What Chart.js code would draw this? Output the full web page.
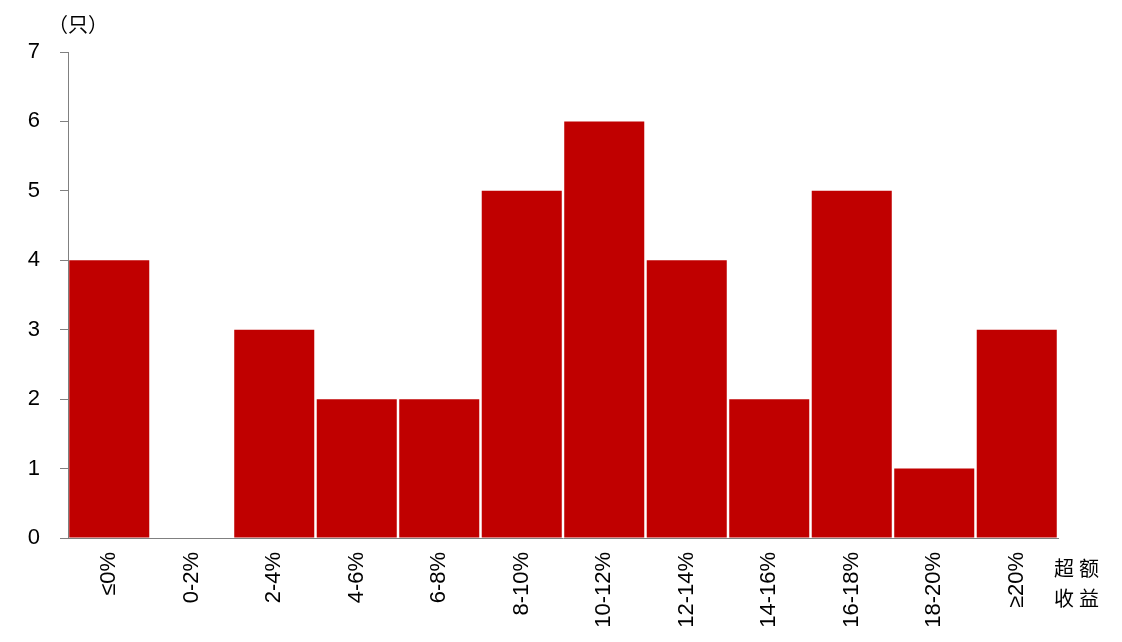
<!DOCTYPE html>
<html>
<head>
<meta charset="utf-8">
<script src="https://cdn.jsdelivr.net/npm/chart.js@4/dist/chart.umd.min.js"></script>
<style>
  html, body { margin: 0; padding: 0; background: #fff; }
  #wrap { width: 1122px; height: 642px; position: relative; }
</style>
</head>
<body>
<div id="wrap"><canvas id="grafico"></canvas></div>
<script>
// categorias de exceso de rentabilidad y numero de fondos
const categorias = ["≤0%", "0-2%", "2-4%", "4-6%", "6-8%", "8-10%", "10-12%", "12-14%", "14-16%", "16-18%", "18-20%", "≥20%"];
const cantidades = [4, 0, 3, 2, 2, 5, 6, 4, 2, 5, 1, 3];
const ticksY = [0, 1, 2, 3, 4, 5, 6, 7];
const unidad = "（只）";
const tituloX = ["超额", "收益"];

// textos extra: unidad arriba y titulo del eje x abajo a la derecha
const textosExtra = {
  id: "textosExtra",
  afterDraw(chart) {
    const ctx = chart.ctx;
    ctx.save();
    ctx.fillStyle = "#000";
    ctx.textBaseline = "middle";
    ctx.textAlign = "left";
    ctx.font = "20px 'Noto Sans CJK SC'";
    ctx.fillText(unidad, 48, 24);
    ctx.letterSpacing = "5px";
    ctx.fillText(tituloX[0], 1054, 568);
    ctx.fillText(tituloX[1], 1054, 598);
    ctx.restore();
  },
};

const ctx = document.getElementById("grafico").getContext("2d");
const myChart = new Chart(ctx, {
  type: "bar",
  data: {
    labels: categorias,
    datasets: [
      {
        data: cantidades,
        backgroundColor: "#C00000",
        borderWidth: 0,
        barPercentage: 0.97,
        categoryPercentage: 1,
      },
    ],
  },
  options: {
    responsive: true,
    maintainAspectRatio: false,
    animation: false,
    layout: { padding: { top: 52, right: 64, left: 0, bottom: 0 } },
    plugins: { legend: { display: false }, tooltip: { enabled: false } },
    scales: {
      x: {
        grid: { display: false, drawTicks: false },
        border: { display: true, color: "#808080", width: 1 },
        ticks: {
          color: "#000",
          font: { family: "'Liberation Sans', Arial", size: 22 },
          minRotation: 90,
          maxRotation: 90,
          padding: 14,
          autoSkip: false,
        },
        afterFit(scale) {
          scale.height = 104;
        },
      },
      y: {
        min: 0,
        max: 7,
        afterBuildTicks(scale) {
          scale.ticks = ticksY.map((v) => ({ value: v }));
        },
        grid: { display: true, drawOnChartArea: false, drawTicks: true, tickLength: 8, tickColor: "#808080" },
        border: { display: true, color: "#808080", width: 1 },
        ticks: {
          color: "#000",
          font: { family: "'Liberation Sans', Arial", size: 22 },
          padding: 20,
        },
        afterFit(scale) {
          scale.width = 68;
        },
      },
    },
  },
  plugins: [textosExtra],
});
</script>
</body>
</html>
